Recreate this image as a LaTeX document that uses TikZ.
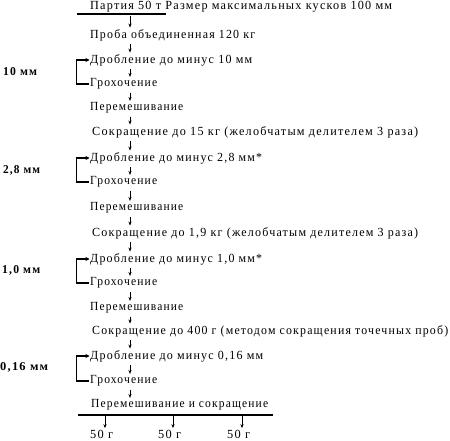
\documentclass[tikz,border=0pt]{standalone}
\usepackage{fontspec}
\setmainfont{Liberation Serif}[LetterSpace=10]
\usetikzlibrary{arrows.meta}
\newcommand{\fw}[2]{\resizebox{#1}{\height}{#2}}
\begin{document}
\begin{tikzpicture}[x=1pt,y=-1pt,
  font=\fontsize{12.4}{15}\selectfont,
  lbl/.style={anchor=west, inner sep=0pt},
  side/.style={anchor=west, inner sep=0pt, font=\fontsize{12}{14}\selectfont\bfseries},
  arr/.style={-{Stealth[length=4pt,width=3.2pt]}, line width=0.6pt},
  heavy/.style={line width=1.6pt},
  loop/.style={heavy, -{Stealth[length=4pt,width=4pt]}}]
\useasboundingbox (0,0) rectangle (450,441);
\coordinate (sp) at (130,0);
\node[lbl] (p0) at (90,7) {\fw{302pt}{Партия 50 т Размер максимальных кусков 100 мм}};
\node[lbl] (p1) at (90,35) {\fw{165pt}{Проба объединенная 120 кг}};
\node[lbl] (d1) at (90,60) {\fw{162pt}{Дробление до минус 10 мм}};
\node[lbl] (g1) at (90,84) {\fw{67pt}{Грохочение}};
\node[lbl] (m1) at (90,108) {\fw{93pt}{Перемешивание}};
\node[lbl] (s1) at (92,132) {\fw{326pt}{Сокращение до 15 кг (желобчатым делителем 3 раза)}};
\node[lbl] (d2) at (90,158) {\fw{172pt}{Дробление до минус 2,8 мм*}};
\node[lbl] (g2) at (90,182) {\fw{67pt}{Грохочение}};
\node[lbl] (m2) at (90,208) {\fw{93pt}{Перемешивание}};
\node[lbl] (s2) at (92,233) {\fw{326pt}{Сокращение до 1,9 кг (желобчатым делителем 3 раза)}};
\node[lbl] (d3) at (90,259) {\fw{172pt}{Дробление до минус 1,0 мм*}};
\node[lbl] (g3) at (90,283) {\fw{67pt}{Грохочение}};
\node[lbl] (m3) at (90,308) {\fw{93pt}{Перемешивание}};
\node[lbl] (s3) at (92,331) {\fw{356pt}{Сокращение до 400 г (методом сокращения точечных проб)}};
\node[lbl] (d4) at (90,356) {\fw{173pt}{Дробление до минус 0,16 мм}};
\node[lbl] (g4) at (90,381) {\fw{67pt}{Грохочение}};
\node[lbl] (m4) at (91,405) {\fw{177pt}{Перемешивание и сокращение}};
\node[side] (l1) at (3,72) {\fw{34pt}{10 мм}};
\node[side] (l2) at (3,170) {\fw{37pt}{2,8 мм}};
\node[side] (l3) at (2,270) {\fw{38pt}{1,0 мм}};
\node[side] (l4) at (0,367) {\fw{48pt}{0,16 мм}};
% top bar
\coordinate (t1) at (77,14);
\coordinate (t2) at (166,14);
\draw[heavy] (t1) -- (t2);
% spine arrows
\foreach \a/\b in {p0/p1,p1/d1,d1/g1,g1/m1,m1/s1,s1/d2,d2/g2,g2/m2,m2/s2,s2/d3,d3/g3,g3/m3,m3/s3,s3/d4,d4/g4,g4/m4}
  \draw[arr] ([yshift=-3pt]\a.south -| sp) -- ([yshift=1.5pt]\b.north -| sp);
% loops
\foreach \d/\g in {d1/g1,d2/g2,d3/g3,d4/g4}
  \draw[loop] ([xshift=-1.5pt]\g.west) -- ++(-12,0) |- ([xshift=-0.5pt]\d.west);
% bottom bar and outputs
\coordinate (b1) at (78,415);
\coordinate (b2) at (273,415);
\draw[heavy] (b1) -- (b2);
\node[lbl] (o1) at (90,434) {\fw{23pt}{50 г}};
\node[lbl] (o2) at (158,434) {\fw{23pt}{50 г}};
\node[lbl] (o3) at (227,434) {\fw{23pt}{50 г}};
\coordinate (c1) at (105,416);
\coordinate (c2) at (173,416);
\coordinate (c3) at (242,416);
\foreach \c/\o in {c1/o1,c2/o2,c3/o3}
  \draw[arr] (\c) -- ([yshift=1.5pt]\o.north -| \c);
\end{tikzpicture}
\end{document}
